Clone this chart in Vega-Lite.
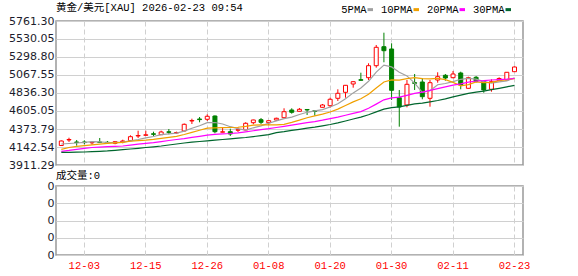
{
  "$schema": "https://vega.github.io/schema/vega-lite/v6.json",
  "autosize": {"type": "pad"},
  "padding": {"left": 7, "top": 2, "right": 0, "bottom": 0},
  "background": "white",
  "config": {
    "view": {"stroke": "#999999", "strokeWidth": 1.5},
    "axis": {"ticks": false, "domain": false, "title": null, "gridColor": "#d0d0d0", "gridWidth": 1, "labelFont": "DejaVu Sans", "labelFontSize": 11, "labelColor": "#1c1c2c", "labelOverlap": false},
    "title": {"font": "Liberation Mono, Noto Sans CJK SC", "fontSize": 10.5, "fontWeight": "normal", "color": "#000000", "anchor": "start", "frame": "group"}
  },
  "datasets": {
    "k": [
      {"d":"11-28","o":4161.9,"h":4226.1,"l":4155.4,"c":4219.7,"5PMA":4181.1,"10PMA":4113.0,"20PMA":4087.4,"30PMA":4074.5,"vol":0},
      {"d":"12-01","o":4232.5,"h":4262.1,"l":4206.8,"c":4238.9,"5PMA":4187.6,"10PMA":4136.2,"20PMA":4098.9,"30PMA":4074.5,"vol":0},
      {"d":"12-02","o":4206.8,"h":4232.5,"l":4159.3,"c":4200.4,"5PMA":4194.0,"10PMA":4151.6,"20PMA":4113.0,"30PMA":4075.8,"vol":0},
      {"d":"12-03","o":4206.8,"h":4228.7,"l":4177.3,"c":4199.1,"5PMA":4201.7,"10PMA":4160.6,"20PMA":4125.9,"30PMA":4078.4,"vol":0},
      {"d":"12-04","o":4196.6,"h":4215.8,"l":4172.2,"c":4203.0,"5PMA":4212.0,"10PMA":4169.6,"20PMA":4136.2,"30PMA":4082.2,"vol":0},
      {"d":"12-05","o":4206.8,"h":4258.2,"l":4199.1,"c":4200.4,"5PMA":4208.1,"10PMA":4179.9,"20PMA":4141.3,"30PMA":4087.4,"vol":0},
      {"d":"12-08","o":4203.0,"h":4219.7,"l":4190.1,"c":4196.6,"5PMA":4200.4,"10PMA":4190.1,"20PMA":4146.4,"30PMA":4092.5,"vol":0},
      {"d":"12-09","o":4190.1,"h":4219.7,"l":4177.3,"c":4210.7,"5PMA":4201.7,"10PMA":4196.6,"20PMA":4151.6,"30PMA":4100.2,"vol":0},
      {"d":"12-10","o":4206.8,"h":4236.4,"l":4190.1,"c":4219.7,"5PMA":4205.5,"10PMA":4203.0,"20PMA":4155.4,"30PMA":4107.9,"vol":0},
      {"d":"12-11","o":4223.5,"h":4292.9,"l":4223.5,"c":4274.9,"5PMA":4221.0,"10PMA":4216.5,"20PMA":4167.0,"30PMA":4116.9,"vol":0},
      {"d":"12-12","o":4283.9,"h":4352.0,"l":4258.2,"c":4290.3,"5PMA":4238.9,"10PMA":4223.5,"20PMA":4178.6,"30PMA":4125.9,"vol":0},
      {"d":"12-15","o":4292.9,"h":4352.0,"l":4291.6,"c":4299.3,"5PMA":4259.5,"10PMA":4229.9,"20PMA":4190.1,"30PMA":4136.2,"vol":0},
      {"d":"12-16","o":4312.2,"h":4339.2,"l":4283.9,"c":4305.7,"5PMA":4277.5,"10PMA":4239.6,"20PMA":4199.1,"30PMA":4145.2,"vol":0},
      {"d":"12-17","o":4300.6,"h":4352.0,"l":4300.6,"c":4335.3,"5PMA":4300.6,"10PMA":4253.1,"20PMA":4212.0,"30PMA":4155.4,"vol":0},
      {"d":"12-18","o":4337.9,"h":4373.8,"l":4305.7,"c":4331.4,"5PMA":4312.2,"10PMA":4266.6,"20PMA":4226.1,"30PMA":4168.3,"vol":0},
      {"d":"12-19","o":4322.4,"h":4339.2,"l":4313.5,"c":4328.9,"5PMA":4319.9,"10PMA":4279.4,"20PMA":4238.9,"30PMA":4181.1,"vol":0},
      {"d":"12-22","o":4348.1,"h":4444.5,"l":4341.7,"c":4434.2,"5PMA":4346.9,"10PMA":4303.2,"20PMA":4250.5,"30PMA":4194.0,"vol":0},
      {"d":"12-23","o":4476.6,"h":4506.2,"l":4438.1,"c":4483.0,"5PMA":4382.8,"10PMA":4330.2,"20PMA":4265.9,"30PMA":4204.3,"vol":0},
      {"d":"12-24","o":4502.3,"h":4528.0,"l":4459.9,"c":4494.6,"5PMA":4414.9,"10PMA":4357.8,"20PMA":4280.0,"30PMA":4213.2,"vol":0},
      {"d":"12-26","o":4498.5,"h":4562.7,"l":4476.6,"c":4537.0,"5PMA":4456.1,"10PMA":4384.1,"20PMA":4294.2,"30PMA":4222.2,"vol":0},
      {"d":"12-29","o":4540.8,"h":4547.3,"l":4318.6,"c":4339.2,"5PMA":4457.3,"10PMA":4388.6,"20PMA":4305.7,"30PMA":4231.2,"vol":0},
      {"d":"12-30","o":4332.7,"h":4390.5,"l":4331.4,"c":4337.9,"5PMA":4438.1,"10PMA":4392.5,"20PMA":4310.9,"30PMA":4238.9,"vol":0},
      {"d":"12-31","o":4339.2,"h":4377.7,"l":4283.9,"c":4309.6,"5PMA":4403.4,"10PMA":4393.1,"20PMA":4316.0,"30PMA":4246.6,"vol":0},
      {"d":"01-02","o":4358.4,"h":4395.7,"l":4335.3,"c":4363.6,"5PMA":4377.7,"10PMA":4396.3,"20PMA":4325.0,"30PMA":4255.6,"vol":0},
      {"d":"01-05","o":4361.0,"h":4459.9,"l":4357.1,"c":4447.1,"5PMA":4359.7,"10PMA":4407.9,"20PMA":4337.2,"30PMA":4264.6,"vol":0},
      {"d":"01-06","o":4454.8,"h":4493.3,"l":4434.2,"c":4489.5,"5PMA":4389.3,"10PMA":4423.3,"20PMA":4351.4,"30PMA":4276.2,"vol":0},
      {"d":"01-07","o":4493.3,"h":4515.2,"l":4438.1,"c":4459.9,"5PMA":4413.7,"10PMA":4425.9,"20PMA":4364.8,"30PMA":4289.0,"vol":0},
      {"d":"01-08","o":4454.8,"h":4483.0,"l":4421.4,"c":4480.5,"5PMA":4448.3,"10PMA":4425.9,"20PMA":4377.7,"30PMA":4301.9,"vol":0},
      {"d":"01-09","o":4489.5,"h":4519.0,"l":4476.6,"c":4511.3,"5PMA":4477.9,"10PMA":4427.8,"20PMA":4393.1,"30PMA":4327.6,"vol":0},
      {"d":"01-12","o":4519.0,"h":4639.8,"l":4515.2,"c":4596.1,"5PMA":4507.4,"10PMA":4433.6,"20PMA":4408.5,"30PMA":4340.4,"vol":0},
      {"d":"01-13","o":4617.9,"h":4639.8,"l":4570.4,"c":4588.4,"5PMA":4526.7,"10PMA":4458.0,"20PMA":4423.3,"30PMA":4356.7,"vol":0},
      {"d":"01-14","o":4601.2,"h":4643.6,"l":4598.7,"c":4626.9,"5PMA":4560.1,"10PMA":4486.9,"20PMA":4439.4,"30PMA":4370.0,"vol":0},
      {"d":"01-15","o":4624.4,"h":4626.9,"l":4553.7,"c":4617.9,"5PMA":4588.4,"10PMA":4518.4,"20PMA":4456.1,"30PMA":4384.1,"vol":0},
      {"d":"01-16","o":4607.7,"h":4610.2,"l":4544.7,"c":4601.2,"5PMA":4606.4,"10PMA":4542.1,"20PMA":4468.9,"30PMA":4397.0,"vol":0},
      {"d":"01-19","o":4652.6,"h":4695.0,"l":4650.0,"c":4682.2,"5PMA":4623.1,"10PMA":4565.3,"20PMA":4486.9,"30PMA":4413.7,"vol":0},
      {"d":"01-20","o":4673.2,"h":4775.9,"l":4647.5,"c":4755.4,"5PMA":4656.5,"10PMA":4591.6,"20PMA":4507.4,"30PMA":4431.6,"vol":0},
      {"d":"01-21","o":4768.2,"h":4883.9,"l":4733.6,"c":4832.5,"5PMA":4697.6,"10PMA":4628.9,"20PMA":4527.4,"30PMA":4452.2,"vol":0},
      {"d":"01-22","o":4845.3,"h":4939.1,"l":4775.9,"c":4935.2,"5PMA":4761.8,"10PMA":4675.1,"20PMA":4550.5,"30PMA":4476.6,"vol":0},
      {"d":"01-23","o":4952.0,"h":4986.6,"l":4904.4,"c":4981.5,"5PMA":4837.6,"10PMA":4722.0,"20PMA":4574.9,"30PMA":4502.3,"vol":0},
      {"d":"01-26","o":5007.2,"h":5097.1,"l":4996.9,"c":4999.5,"5PMA":4900.6,"10PMA":4761.8,"20PMA":4597.4,"30PMA":4526.7,"vol":0},
      {"d":"01-27","o":5032.9,"h":5217.9,"l":5003.3,"c":5187.1,"5PMA":4986.6,"10PMA":4821.6,"20PMA":4639.8,"30PMA":4556.3,"vol":0},
      {"d":"01-28","o":5187.1,"h":5453.0,"l":5161.4,"c":5423.4,"5PMA":5104.8,"10PMA":4901.2,"20PMA":4693.7,"30PMA":4593.5,"vol":0},
      {"d":"01-29","o":5431.1,"h":5611.0,"l":5230.7,"c":5379.8,"5PMA":5194.8,"10PMA":4978.3,"20PMA":4748.3,"30PMA":4629.5,"vol":0},
      {"d":"01-30","o":5401.6,"h":5474.8,"l":4746.4,"c":4871.0,"5PMA":5171.6,"10PMA":5004.6,"20PMA":4773.4,"30PMA":4647.5,"vol":0},
      {"d":"02-02","o":4775.9,"h":4874.9,"l":4403.4,"c":4656.5,"5PMA":5103.5,"10PMA":5002.1,"20PMA":4783.7,"30PMA":4658.4,"vol":0},
      {"d":"02-03","o":4682.2,"h":5003.3,"l":4652.6,"c":4948.1,"5PMA":5056.0,"10PMA":5021.3,"20PMA":4806.8,"30PMA":4678.3,"vol":0},
      {"d":"02-04","o":4968.7,"h":5080.4,"l":4874.9,"c":4960.9,"5PMA":4963.5,"10PMA":5034.2,"20PMA":4831.2,"30PMA":4696.3,"vol":0},
      {"d":"02-05","o":4977.6,"h":5025.2,"l":4755.4,"c":4788.8,"5PMA":4845.3,"10PMA":5020.0,"20PMA":4847.9,"30PMA":4706.6,"vol":0},
      {"d":"02-06","o":4768.2,"h":5003.3,"l":4660.3,"c":4968.7,"5PMA":4864.6,"10PMA":5018.1,"20PMA":4869.7,"30PMA":4722.6,"vol":0},
      {"d":"02-09","o":5003.3,"h":5102.3,"l":4968.7,"c":5045.7,"5PMA":4943.0,"10PMA":5023.3,"20PMA":4892.9,"30PMA":4740.0,"vol":0},
      {"d":"02-10","o":5063.7,"h":5080.4,"l":4994.3,"c":5029.0,"5PMA":4958.4,"10PMA":5007.2,"20PMA":4914.7,"30PMA":4761.8,"vol":0},
      {"d":"02-11","o":5032.9,"h":5119.0,"l":5025.2,"c":5080.4,"5PMA":4982.8,"10PMA":4973.2,"20PMA":4937.2,"30PMA":4787.5,"vol":0},
      {"d":"02-12","o":5093.3,"h":5110.0,"l":4883.9,"c":4939.1,"5PMA":5012.3,"10PMA":4928.8,"20PMA":4953.2,"30PMA":4808.1,"vol":0},
      {"d":"02-13","o":4896.7,"h":5045.7,"l":4894.1,"c":5032.9,"5PMA":5025.2,"10PMA":4944.9,"20PMA":4975.1,"30PMA":4830.6,"vol":0},
      {"d":"02-16","o":5038.0,"h":5054.7,"l":4971.2,"c":4986.6,"5PMA":5013.6,"10PMA":4978.3,"20PMA":4990.5,"30PMA":4848.5,"vol":0},
      {"d":"02-17","o":4986.6,"h":4994.3,"l":4840.2,"c":4874.9,"5PMA":4982.8,"10PMA":4970.6,"20PMA":4995.6,"30PMA":4860.7,"vol":0},
      {"d":"02-18","o":4883.9,"h":5012.3,"l":4853.0,"c":4981.5,"5PMA":4963.5,"10PMA":4973.2,"20PMA":5003.3,"30PMA":4878.7,"vol":0},
      {"d":"02-19","o":4996.9,"h":5038.0,"l":4990.5,"c":5022.6,"5PMA":4980.2,"10PMA":4996.3,"20PMA":5008.5,"30PMA":4896.7,"vol":0},
      {"d":"02-20","o":5003.3,"h":5106.1,"l":4999.5,"c":5102.3,"5PMA":4993.1,"10PMA":5009.1,"20PMA":5013.6,"30PMA":4916.0,"vol":0},
      {"d":"02-23","o":5110.0,"h":5176.8,"l":5108.7,"c":5170.4,"5PMA":5030.3,"10PMA":5022.0,"20PMA":5022.6,"30PMA":4935.3,"vol":0}
    ]
  },
  "spacing": 21,
  "bounds": "flush",
  "vconcat": [
    {
      "width": 467,
      "height": 144,
      "title": {"text": "黄金/美元[XAU] 2026-02-23 09:54", "offset": -8.5, "baseline": "bottom"},
      "data": {"name": "k"},
      "encoding": {
        "x": {
          "field": "d", "type": "ordinal", "sort": null,
          "scale": {"type": "band", "paddingInner": 0, "paddingOuter": 0.4, "align": 0.24},
          "axis": {"labels": false, "grid": true, "gridDash": [5, 3], "bandPosition": 0.5, "values": ["12-03", "12-15", "12-26", "01-08", "01-20", "01-30", "02-11", "02-23"]}
        }
      },
      "layer": [
        {
          "mark": {"type": "rule", "strokeWidth": 1},
          "encoding": {
            "y": {"field": "l", "type": "quantitative", "scale": {"domain": [3911.29, 5761.30], "nice": false, "zero": false},
                  "axis": {"values": [3911.29, 4142.54, 4373.79, 4605.05, 4836.30, 5067.55, 5298.80, 5530.05, 5761.30], "tickCount": 20, "format": ".2f", "labelPadding": 2, "labelOverlap": false, "labelFlush": false}},
            "y2": {"field": "h"},
            "color": {"condition": {"test": "datum.c >= datum.o", "value": "#ff0000"}, "value": "#008000"}
          }
        },
        {
          "mark": {"type": "bar", "width": 4, "strokeWidth": 1},
          "encoding": {
            "y": {"field": "o", "type": "quantitative"},
            "y2": {"field": "c"},
            "fill": {"condition": {"test": "datum.c >= datum.o", "value": "#ffffff"}, "value": "#008000"},
            "stroke": {"condition": {"test": "datum.c >= datum.o", "value": "#ff0000"}, "value": "#008000"}
          }
        },
        {
          "transform": [{"fold": ["5PMA", "10PMA", "20PMA", "30PMA"], "as": ["ma", "val"]}],
          "mark": {"type": "line", "strokeWidth": 1.2},
          "encoding": {
            "y": {"field": "val", "type": "quantitative"},
            "color": {
              "field": "ma", "type": "nominal",
              "scale": {"domain": ["5PMA", "10PMA", "20PMA", "30PMA"], "range": ["#a0a0a0", "#f0a000", "#ff00ff", "#00662e"]},
              "legend": {"orient": "none", "legendX": 309, "legendY": -17, "direction": "horizontal", "title": null,
                         "labelFont": "Liberation Mono", "labelFontSize": 10.5, "labelColor": "#000000",
                         "labelAlign": "right", "labelOffset": -9, "symbolType": "stroke", "symbolSize": 30, "symbolStrokeWidth": 3,
                         "columnPadding": 1}
            }
          }
        }
      ]
    },
    {
      "width": 467,
      "height": 69,
      "title": {"text": "成交量:0", "offset": -11, "baseline": "bottom"},
      "data": {"name": "k"},
      "mark": {"type": "bar", "width": 4, "color": "#008000"},
      "encoding": {
        "x": {
          "field": "d", "type": "ordinal", "sort": null,
          "scale": {"type": "band", "paddingInner": 0, "paddingOuter": 0.4, "align": 0.24},
          "axis": {"grid": true, "gridDash": [5, 3], "bandPosition": 0.5, "labelColor": "#ff0000", "labelFont": "Liberation Mono", "labelFontSize": 10.5, "labelPadding": 5, "labelAngle": 0,
                   "values": ["12-03", "12-15", "12-26", "01-08", "01-20", "01-30", "02-11", "02-23"]}
        },
        "y": {
          "field": "vol", "type": "quantitative",
          "scale": {"domain": [0, 4], "nice": false, "zero": false},
          "axis": {"values": [0, 1, 2, 3, 4], "tickCount": 10, "labelExpr": "'0'", "labelPadding": 2, "labelOverlap": false, "labelFlush": false}
        }
      }
    }
  ]
}
